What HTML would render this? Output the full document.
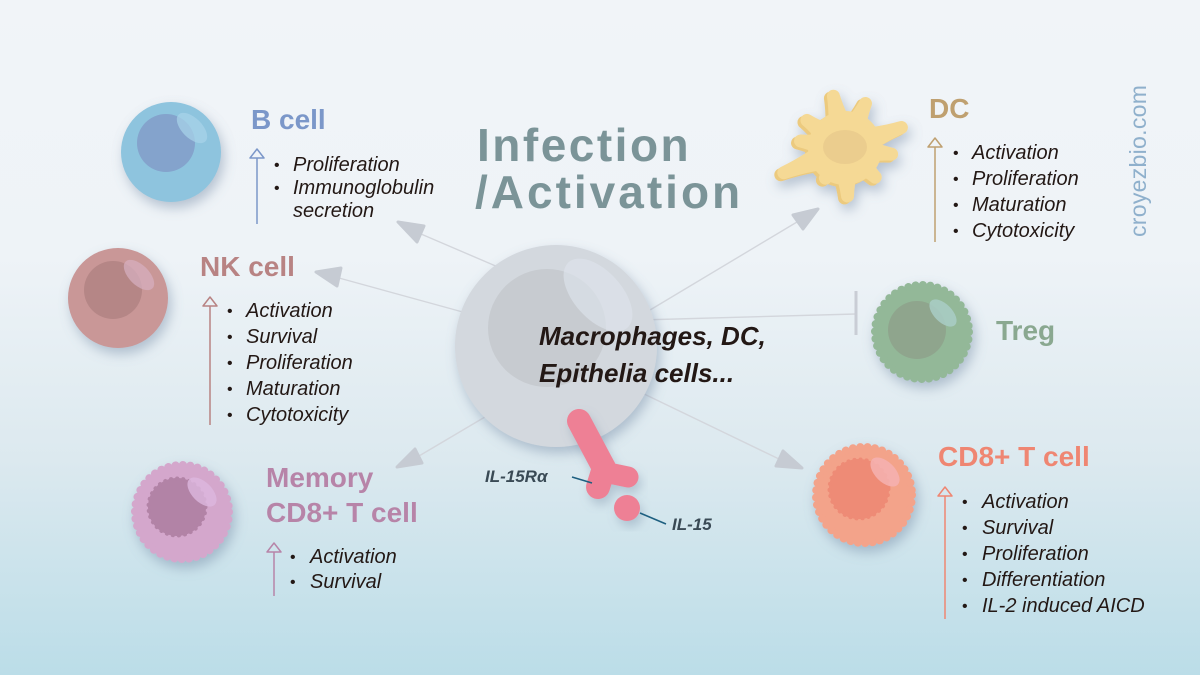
<!DOCTYPE html>
<html><head><meta charset="utf-8"><style>
html,body{margin:0;padding:0}
body{width:1200px;height:675px;overflow:hidden;background:linear-gradient(to bottom,#f1f4f8 0%,#eef3f7 38%,#dce9ef 68%,#bbdde8 100%);}
svg{display:block}
.lbl{font-family:"Liberation Sans",sans-serif;font-weight:bold;font-size:28px}
.it{font-family:"Liberation Sans",sans-serif;font-style:italic;font-size:20px;fill:#231815}
.bul{font-family:"Liberation Sans",sans-serif;font-size:16px;fill:#231815}
</style></head><body>
<svg width="1200" height="675" viewBox="0 0 1200 675" xmlns="http://www.w3.org/2000/svg">
<defs>
<filter id="sh" x="-40%" y="-40%" width="180%" height="180%">
<feDropShadow dx="3" dy="6" stdDeviation="6" flood-color="#6f85a0" flood-opacity="0.45"/>
</filter>
<filter id="sh2" x="-40%" y="-40%" width="180%" height="180%">
<feDropShadow dx="3" dy="6" stdDeviation="5" flood-color="#6f85a0" flood-opacity="0.35"/>
</filter>
<g id="star">
<circle cx="0" cy="0" r="37"/>
<path transform="rotate(-102.6)" d="M0,-19 Q32,-8 53,-6.5 A6.5,6.5 0 0 1 53,6.5 Q32,8 0,19 Z"/>
<path transform="rotate(-65.3)" d="M0,-19 Q30,-8 49,-6.5 A6.5,6.5 0 0 1 49,6.5 Q30,8 0,19 Z"/>
<path transform="rotate(-20)" d="M0,-19 Q36,-8 60,-6.5 A6.5,6.5 0 0 1 60,6.5 Q36,8 0,19 Z"/>
<path transform="rotate(7.5)" d="M0,-19 Q29,-8 47,-6.5 A6.5,6.5 0 0 1 47,6.5 Q29,8 0,19 Z"/>
<path transform="rotate(44)" d="M0,-19 Q27,-8 42,-6.5 A6.5,6.5 0 0 1 42,6.5 Q27,8 0,19 Z"/>
<path transform="rotate(87)" d="M0,-19 Q30,-8 48,-6.5 A6.5,6.5 0 0 1 48,6.5 Q30,8 0,19 Z"/>
<path transform="rotate(123)" d="M0,-19 Q24,-8 36,-6.5 A6.5,6.5 0 0 1 36,6.5 Q24,8 0,19 Z"/>
<path transform="rotate(158)" d="M0,-19 Q39,-8 66,-6.5 A6.5,6.5 0 0 1 66,6.5 Q39,8 0,19 Z"/>
<path transform="rotate(-171)" d="M0,-19 Q28,-8 45,-6.5 A6.5,6.5 0 0 1 45,6.5 Q28,8 0,19 Z"/>
<path transform="rotate(-144)" d="M0,-19 Q29,-8 47,-6.5 A6.5,6.5 0 0 1 47,6.5 Q29,8 0,19 Z"/>
</g>
</defs>

<!-- connectors -->
<g stroke="#d3d6dc" stroke-width="1.4" fill="none">
<line x1="505" y1="270" x2="421" y2="234"/>
<line x1="470" y1="314" x2="339" y2="278"/>
<line x1="640" y1="316" x2="797" y2="222"/>
<line x1="640" y1="320" x2="856" y2="314"/>
<line x1="490" y1="414" x2="419" y2="456"/>
<line x1="640" y1="392" x2="779" y2="459"/>
</g>
<g fill="#c6cbd3" stroke="#c6cbd3" stroke-width="3" stroke-linejoin="round">
<polygon points="398,222 424,226 417,242"/>
<polygon points="316,272 341,268 337,286"/>
<polygon points="818,209 793,215 803,229"/>
<polygon points="397,467 415,449 422,463"/>
<polygon points="802,468 783,451 776,466"/>
</g>
<line x1="856" y1="291" x2="856" y2="335" stroke="#c9cdd5" stroke-width="3"/>

<!-- center cell -->
<g filter="url(#sh)">
<circle cx="556" cy="346" r="101" fill="#d3d8de"/>
</g>
<circle cx="547" cy="328" r="59" fill="#c7cbd0"/>
<ellipse cx="598" cy="295" rx="44" ry="24" transform="rotate(48 598 295)" fill="#dde4eb" opacity="0.65"/>

<!-- receptor -->
<g filter="url(#sh2)" stroke="#ee8095" stroke-linecap="round" fill="none">
<line x1="579" y1="421" x2="604" y2="468" stroke-width="24"/>
<line x1="604" y1="468" x2="598" y2="487" stroke-width="24"/>
<line x1="604" y1="472" x2="628" y2="477" stroke-width="21"/>
</g>
<circle cx="627" cy="508" r="13" fill="#ee8095" filter="url(#sh2)"/>
<line x1="572" y1="477" x2="592" y2="483" stroke="#1d5f80" stroke-width="1.5"/>
<line x1="640" y1="513" x2="666" y2="524" stroke="#1d5f80" stroke-width="1.5"/>
<text x="485" y="482" font-family="Liberation Sans, sans-serif" font-weight="bold" font-style="italic" font-size="17" fill="#3a4a55">IL-15Rα</text>
<text x="672" y="530" font-family="Liberation Sans, sans-serif" font-weight="bold" font-style="italic" font-size="17" fill="#3a4a55">IL-15</text>

<text x="539" y="345" font-family="Liberation Sans, sans-serif" font-weight="bold" font-style="italic" font-size="26" fill="#231815">Macrophages, DC,</text>
<text x="539" y="382" font-family="Liberation Sans, sans-serif" font-weight="bold" font-style="italic" font-size="26" fill="#231815">Epithelia cells...</text>

<!-- title -->
<text x="477" y="161" font-family="Liberation Sans, sans-serif" font-weight="bold" font-size="46" letter-spacing="2.5" fill="#7b9498">Infection</text>
<text x="475" y="208" font-family="Liberation Sans, sans-serif" font-weight="bold" font-size="46" letter-spacing="3" fill="#7b9498">/Activation</text>

<!-- B cell -->
<circle cx="171" cy="152" r="50" fill="#8ec4de" filter="url(#sh)"/>
<circle cx="166" cy="143" r="29" fill="#84a3cc"/>
<ellipse cx="192" cy="128" rx="19" ry="10" transform="rotate(45 192 128)" fill="#a9d4ea" opacity="0.7"/>
<text class="lbl" x="251" y="129" fill="#7b97c9">B cell</text>
<line x1="257" y1="224" x2="257" y2="158" stroke="#7b97c9" stroke-width="1.5"/>
<polygon points="250,158 257,149 264,158" fill="none" stroke="#7b97c9" stroke-width="1.5" stroke-linejoin="round"/>
<text class="bul" x="274" y="170">•</text><text class="it" x="293" y="171">Proliferation</text>
<text class="bul" x="274" y="193">•</text><text class="it" x="293" y="194">Immunoglobulin</text>
<text class="it" x="293" y="217">secretion</text>

<!-- NK cell -->
<circle cx="118" cy="298" r="50" fill="#c99797" filter="url(#sh)"/>
<circle cx="113" cy="290" r="29" fill="#b58686"/>
<ellipse cx="139" cy="275" rx="19" ry="10" transform="rotate(45 139 275)" fill="#d6adbd" opacity="0.75"/>
<text class="lbl" x="200" y="276" fill="#b88383">NK cell</text>
<line x1="210" y1="425" x2="210" y2="306" stroke="#b88383" stroke-width="1.5"/>
<polygon points="203,306 210,297 217,306" fill="none" stroke="#b88383" stroke-width="1.5" stroke-linejoin="round"/>
<text class="bul" x="227" y="316">•</text><text class="it" x="246" y="317">Activation</text>
<text class="bul" x="227" y="342">•</text><text class="it" x="246" y="343">Survival</text>
<text class="bul" x="227" y="368">•</text><text class="it" x="246" y="369">Proliferation</text>
<text class="bul" x="227" y="394">•</text><text class="it" x="246" y="395">Maturation</text>
<text class="bul" x="227" y="420">•</text><text class="it" x="246" y="421">Cytotoxicity</text>

<!-- Memory CD8+ T cell -->
<g filter="url(#sh)">
<circle cx="182" cy="512" r="48.5" fill="#d4a7cc"/>
<circle cx="182" cy="512" r="47" fill="none" stroke="#d4a7cc" stroke-width="8" stroke-linecap="round" stroke-dasharray="0.1 7.3"/>
</g>
<circle cx="177" cy="507" r="29" fill="#b283a6"/>
<circle cx="177" cy="507" r="28.5" fill="none" stroke="#b283a6" stroke-width="4" stroke-linecap="round" stroke-dasharray="0.1 6"/>
<ellipse cx="202" cy="492" rx="18" ry="10" transform="rotate(45 202 492)" fill="#dcb8de" opacity="0.8"/>
<text class="lbl" x="266" y="487" fill="#b784a8">Memory</text>
<text class="lbl" x="266" y="522" fill="#b784a8">CD8+ T cell</text>
<line x1="274" y1="596" x2="274" y2="552" stroke="#b784a8" stroke-width="1.5"/>
<polygon points="267,552 274,543 281,552" fill="none" stroke="#b784a8" stroke-width="1.5" stroke-linejoin="round"/>
<text class="bul" x="290" y="562">•</text><text class="it" x="310" y="563">Activation</text>
<text class="bul" x="290" y="587">•</text><text class="it" x="310" y="588">Survival</text>

<!-- DC -->
<g filter="url(#sh)">
<use href="#star" transform="translate(842,150)" fill="#ecca7e"/>
<use href="#star" transform="translate(845,148)" fill="#f5d995"/>
</g>
<ellipse cx="845" cy="147" rx="22" ry="17" fill="#ebcd8e"/>
<text class="lbl" x="929" y="118" fill="#bfa070">DC</text>
<line x1="935" y1="242" x2="935" y2="147" stroke="#bfa070" stroke-width="1.5"/>
<polygon points="928,147 935,138 942,147" fill="none" stroke="#bfa070" stroke-width="1.5" stroke-linejoin="round"/>
<text class="bul" x="953" y="158">•</text><text class="it" x="972" y="159">Activation</text>
<text class="bul" x="953" y="184">•</text><text class="it" x="972" y="185">Proliferation</text>
<text class="bul" x="953" y="210">•</text><text class="it" x="972" y="211">Maturation</text>
<text class="bul" x="953" y="236">•</text><text class="it" x="972" y="237">Cytotoxicity</text>

<!-- watermark -->
<text x="1146" y="237" transform="rotate(-90 1146 237)" font-family="Liberation Sans, sans-serif" font-size="23" letter-spacing="0.3" fill="#8fb0cc">croyezbio.com</text>

<!-- Treg -->
<g filter="url(#sh)">
<circle cx="922" cy="332" r="48.5" fill="#93b898"/>
<circle cx="922" cy="332" r="47" fill="none" stroke="#93b898" stroke-width="8" stroke-linecap="round" stroke-dasharray="0.1 7.3"/>
</g>
<circle cx="917" cy="330" r="29" fill="#8fa58d"/>
<ellipse cx="943" cy="313" rx="17" ry="9" transform="rotate(45 943 313)" fill="#a9cdc6" opacity="0.85"/>
<text class="lbl" x="996" y="340" fill="#8aa890">Treg</text>

<!-- CD8+ T cell -->
<g filter="url(#sh)">
<circle cx="864" cy="495" r="49.5" fill="#f3a38a"/>
<circle cx="864" cy="495" r="48" fill="none" stroke="#f3a38a" stroke-width="8" stroke-linecap="round" stroke-dasharray="0.1 7.3"/>
</g>
<circle cx="859" cy="489" r="30" fill="#ee8b76"/>
<circle cx="859" cy="489" r="29.5" fill="none" stroke="#ee8b76" stroke-width="4" stroke-linecap="round" stroke-dasharray="0.1 6"/>
<ellipse cx="885" cy="472" rx="18" ry="10" transform="rotate(45 885 472)" fill="#f5b1b1" opacity="0.85"/>
<text class="lbl" x="938" y="466" fill="#ef8672">CD8+ T cell</text>
<line x1="945" y1="619" x2="945" y2="496" stroke="#ef8672" stroke-width="1.5"/>
<polygon points="938,496 945,487 952,496" fill="none" stroke="#ef8672" stroke-width="1.5" stroke-linejoin="round"/>
<text class="bul" x="962" y="507">•</text><text class="it" x="982" y="508">Activation</text>
<text class="bul" x="962" y="533">•</text><text class="it" x="982" y="534">Survival</text>
<text class="bul" x="962" y="559">•</text><text class="it" x="982" y="560">Proliferation</text>
<text class="bul" x="962" y="585">•</text><text class="it" x="982" y="586">Differentiation</text>
<text class="bul" x="962" y="611">•</text><text class="it" x="982" y="612">IL-2 induced AICD</text>
</svg>
</body></html>
